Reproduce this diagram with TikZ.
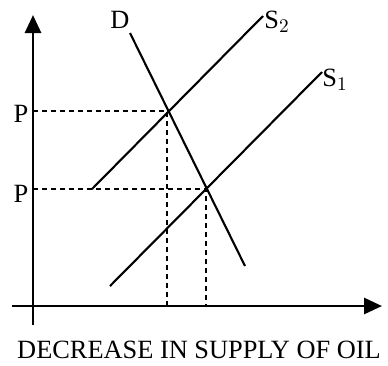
\documentclass[tikz,border=0pt]{standalone}
\usepackage{fontspec}
\setmainfont{Liberation Serif}
\usepackage{tikz}
\usetikzlibrary{arrows.meta, positioning}

\begin{document}
\begin{tikzpicture}[
  x=0.2mm, y=-0.2mm,
  axis/.style={line width=1.6pt, -{Triangle[length=3.6mm, width=3.2mm]}},
  curve/.style={line width=1.2pt},
  guide/.style={line width=1.2pt, dash pattern=on 1mm off 0.8mm},
  lbl/.style={font=\fontsize{15}{17}\selectfont, inner sep=0pt},
  caption/.style={font=\fontsize{15}{18}\selectfont, inner sep=0pt}
]
\useasboundingbox (0,0) rectangle (388,365);

% key points
\coordinate (ybot) at (33,325);
\coordinate (ytop) at (33,15);
\coordinate (xleft) at (12,306);
\coordinate (xright) at (382,306);
\coordinate (p2) at (33,111);
\coordinate (p1) at (33,189);
\coordinate (e2) at (167,111);
\coordinate (e1) at (206,189);
\coordinate (q2) at (167,306);
\coordinate (q1) at (206,306);

% axes
\draw[axis] (ybot) -- (ytop);
\draw[axis] (xleft) -- (xright);

% guide lines
\draw[guide] (p2) -- (e2) -- (q2);
\draw[guide] (p1) -- (e1) -- (q1);

% demand and supply curves
\coordinate (d0) at (130,33);
\coordinate (d9) at (245,266);
\coordinate (s2a) at (92,189);
\coordinate (s2b) at (263,16);
\coordinate (s1a) at (110,286);
\coordinate (s1b) at (322,72);
\draw[curve] (d0) -- (d9);
\draw[curve] (s2a) -- (s2b);
\draw[curve] (s1a) -- (s1b);

% labels
\node[lbl] (dlab) at (120,20) {D};
\node[lbl, anchor=west] (s2lab) at (264,22) {S$_2$};
\node[lbl, anchor=west] (s1lab) at (322,80) {S$_1$};
\node[lbl] (p2lab) at (21,114) {P};
\node[lbl] (p1lab) at (21,194) {P};
\node[caption, anchor=base] (title) at (199,358) {DECREASE IN SUPPLY OF OIL};

\end{tikzpicture}
\end{document}
